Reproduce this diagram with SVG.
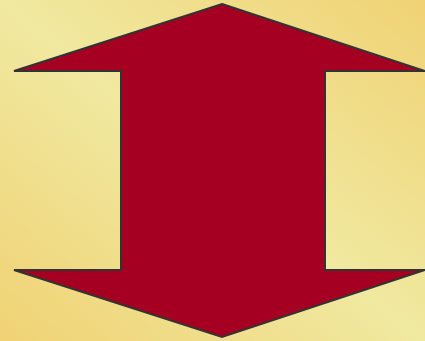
<svg xmlns="http://www.w3.org/2000/svg" width="425" height="341" viewBox="0 0 425 341">
<defs>
<linearGradient id="bg" x1="1" y1="0" x2="0" y2="1">
<stop offset="0" stop-color="#F0D274"/>
<stop offset="0.5" stop-color="#F0E9A0"/>
<stop offset="1" stop-color="#F0D274"/>
</linearGradient>
<style>.arrow{fill:#A50021;stroke:#333333;stroke-width:2;stroke-linejoin:miter}</style>
</defs>
<rect x="0" y="0" width="425" height="341" fill="url(#bg)"/>
<g id="arrow">
<polygon class="arrow" points="222,4 425,71 325,71 325,270 425,270 222,337 14,270 121,270 121,71 14,71"/>
</g>
<g id="connectors"/>
</svg>
